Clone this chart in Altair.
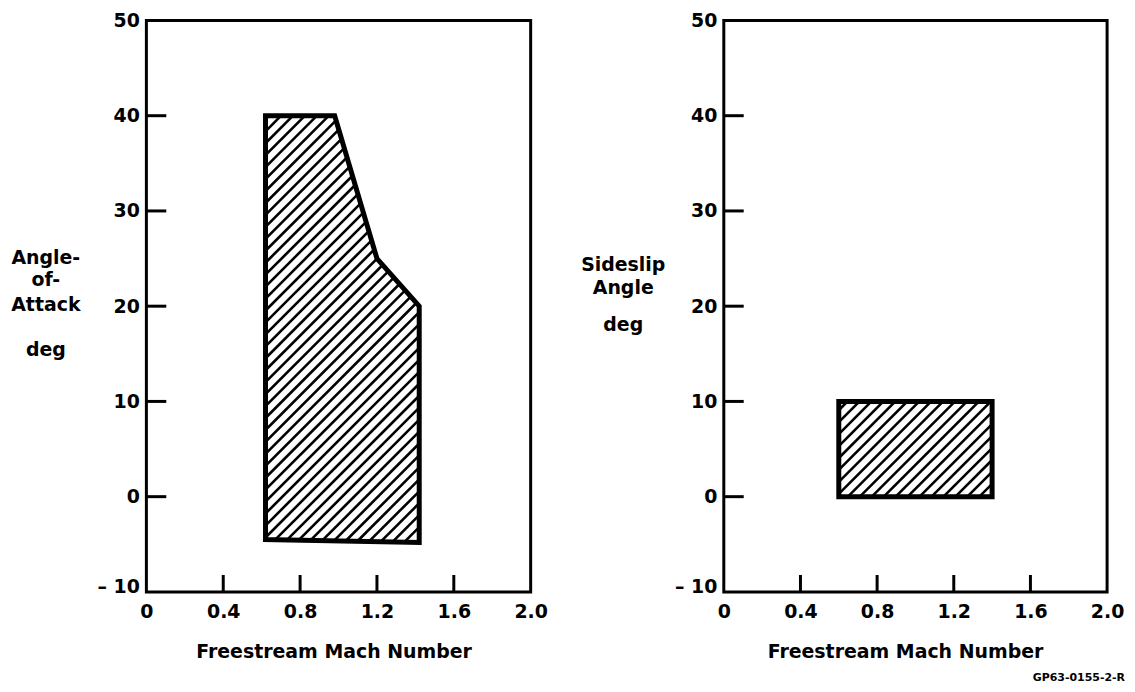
import math
import altair as alt
import pandas as pd

# ---- data ----
X_DOMAIN = [0.0, 2.0]
Y_DOMAIN = [-10, 50]
x_label_values = [0, 0.4, 0.8, 1.2, 1.6, 2.0]
y_label_values = [-10, 0, 10, 20, 30, 40, 50]
x_tick_values = [0.4, 0.8, 1.2, 1.6]
y_tick_values = [0, 10, 20, 30, 40]

# Angle-of-attack envelope (Mach, deg)
aoa_mach = [0.62, 0.62, 0.98, 1.20, 1.42, 1.42]
aoa_deg = [-4.5, 40, 40, 25, 20, -4.8]

# Sideslip envelope (Mach, deg)
beta_mach = [0.60, 0.60, 1.40, 1.40]
beta_deg = [0, 10, 10, 0]

left_title_lines = [("Angle-", 239), ("of-", 261), ("Attack", 286), ("deg", 331)]
right_title_lines = [("Sideslip", 246), ("Angle", 269), ("deg", 306)]
x_title = "Freestream Mach Number"
figure_id = "GP63-0155-2-R"

FONT = "DejaVu Sans"
FS = 19
FW = "bold"
W_LEFT, W_RIGHT, H = 386, 385, 574


def hatch_segments(xs, ys, w, h, step=12.0, phase=3.0):
    """45-degree hatch lines clipped to the polygon, computed in pixel space."""
    x0, x1 = X_DOMAIN
    y0, y1 = Y_DOMAIN
    px = [(x - x0) / (x1 - x0) * w for x in xs]
    py = [(y1 - y) / (y1 - y0) * h for y in ys]
    s = [a + b for a, b in zip(px, py)]
    n = len(px)
    segs = []
    c = math.floor((min(s) - phase) / step) * step + phase + step
    while c < max(s):
        pts = []
        for i in range(n):
            j = (i + 1) % n
            f1, f2 = s[i] - c, s[j] - c
            if (f1 < 0) != (f2 < 0):
                t = f1 / (f1 - f2)
                pts.append((px[i] + t * (px[j] - px[i]), py[i] + t * (py[j] - py[i])))
        pts.sort()
        for k in range(0, len(pts) - 1, 2):
            (ax, ay), (bx, by) = pts[k], pts[k + 1]
            segs.append({
                "x": x0 + ax / w * (x1 - x0), "y": y1 - ay / h * (y1 - y0),
                "x2": x0 + bx / w * (x1 - x0), "y2": y1 - by / h * (y1 - y0),
            })
        c += step
    return pd.DataFrame(segs)


def outline_df(xs, ys):
    rows = [{"o": i, "x": x, "y": y} for i, (x, y) in enumerate(zip(xs, ys))]
    rows.append({"o": len(xs), "x": xs[0], "y": ys[0]})
    return pd.DataFrame(rows)


def panel(xs, ys, w, title_lines, title_x, with_id=False):
    xscale = alt.Scale(domain=X_DOMAIN, nice=False, zero=False)
    yscale = alt.Scale(domain=Y_DOMAIN, nice=False, zero=False)
    x_axis = alt.Axis(
        values=x_label_values,
        labelExpr="datum.value == 0 ? '0' : format(datum.value, '.1f')",
        ticks=False, tickSize=0, domain=False, grid=False,
        labelFlush=False, labelOverlap=False,
        labelFont=FONT, labelFontSize=FS, labelFontWeight=FW, labelColor="black",
        labelBaseline="middle", labelPadding=20,
        title=x_title, titleFont=FONT, titleFontSize=FS, titleFontWeight=FW,
        titleColor="black", titleBaseline="middle", titleAlign="center",
        titleX=title_x, titleY=60,
    )
    y_axis = alt.Axis(
        values=y_label_values,
        labelExpr="datum.value == -10 ? '\u2013 10' : datum.label",
        ticks=False, tickSize=0, domain=False, grid=False,
        labelFlush=False, labelOverlap=False,
        labelFont=FONT, labelFontSize=FS, labelFontWeight=FW, labelColor="black",
        labelBaseline="middle", labelPadding=7,
        labelOffset={"condition": {"test": "datum.value == -10", "value": -5}, "value": 0},
        title=None,
    )

    hatch = alt.Chart(hatch_segments(xs, ys, w, H)).mark_rule(
        color="black", strokeWidth=2.6
    ).encode(
        x=alt.X("x:Q", scale=xscale, axis=x_axis),
        y=alt.Y("y:Q", scale=yscale, axis=y_axis),
        x2="x2:Q", y2="y2:Q",
    )
    outline = alt.Chart(outline_df(xs, ys)).mark_line(
        color="black", strokeWidth=5, strokeJoin="miter", strokeCap="square"
    ).encode(
        x=alt.X("x:Q", scale=xscale, axis=x_axis),
        y=alt.Y("y:Q", scale=yscale, axis=y_axis),
        order="o:Q",
    )
    xt = alt.Chart(pd.DataFrame({"t": x_tick_values})).mark_rule(
        color="black", strokeWidth=3
    ).encode(
        x=alt.X("t:Q", scale=xscale, axis=x_axis),
        y=alt.value(H), y2=alt.value(H - 17),
    )
    yt = alt.Chart(pd.DataFrame({"t": y_tick_values})).mark_rule(
        color="black", strokeWidth=3
    ).encode(
        y=alt.Y("t:Q", scale=yscale, axis=y_axis),
        x=alt.value(0), x2=alt.value(20),
    )
    layers = [hatch, outline, xt, yt]
    for text, py in title_lines:
        layers.append(
            alt.Chart().mark_text(
                text=text, font=FONT, fontSize=FS, fontWeight=FW, color="black",
                align="center", baseline="middle",
            ).encode(x=alt.value(-101), y=alt.value(py))
        )
    if with_id:
        layers.append(
            alt.Chart().mark_text(
                text=figure_id, font=FONT, fontSize=11, fontWeight="bold",
                color="black", align="right", baseline="middle",
            ).encode(x=alt.value(w + 18), y=alt.value(660))
        )
    return alt.layer(*layers).properties(width=w, height=H)


left = panel(aoa_mach, aoa_deg, W_LEFT, left_title_lines, 188)
right = panel(beta_mach, beta_deg, W_RIGHT, right_title_lines, 182, with_id=True)

chart = alt.hconcat(left, right, spacing=194, bounds="flush").properties(
    padding={"left": 1, "top": 0, "right": 0, "bottom": 0}
).configure(font=FONT).configure_view(stroke="black", strokeWidth=3)

chart.save("out.html", embed_options={"renderer": "svg", "actions": False})
